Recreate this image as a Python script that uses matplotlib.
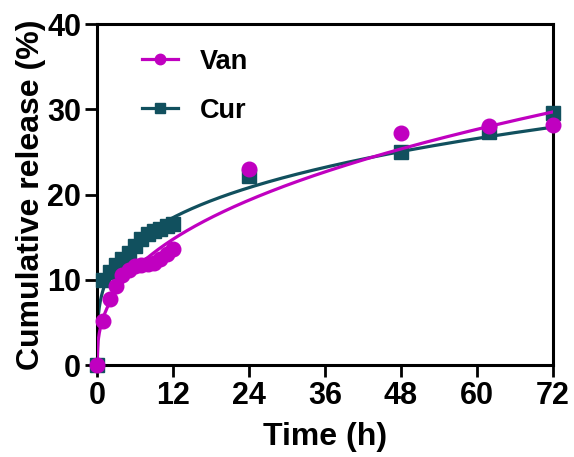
import numpy as np
import matplotlib
matplotlib.use("Agg")
import matplotlib.pyplot as plt

plt.rcParams['font.family'] = ['Liberation Sans', 'DejaVu Sans']
plt.rcParams['font.weight'] = 'bold'

# release data
time_van = [0, 1, 2, 3, 4, 5, 6, 7, 8, 9, 10, 11, 12, 24, 48, 62, 72]
van = [0, 5.2, 7.8, 9.3, 10.6, 11.2, 11.6, 11.8, 11.9, 12.0, 12.4, 13.0, 13.6, 23.0, 27.2, 28.1, 28.2]

time_cur = [0, 1, 2, 3, 4, 5, 6, 7, 8, 9, 10, 11, 12, 24, 48, 62, 72]
cur = [0, 10.0, 10.9, 11.8, 12.4, 13.2, 14.0, 14.8, 15.4, 15.7, 16.0, 16.3, 16.6, 22.2, 25.0, 27.3, 29.6]

xticks = [0, 12, 24, 36, 48, 60, 72]
yticks = [0, 10, 20, 30, 40]

van_color = '#C000C0'
cur_color = '#11505E'


def power_fit(t, q):
    # Korsmeyer-Peppas style fit, Q = k * t^n
    t = np.asarray(t, float)
    q = np.asarray(q, float)
    m = t > 0
    n, logk = np.polyfit(np.log(t[m]), np.log(q[m]), 1)
    return np.exp(logk), n


fig = plt.figure(figsize=(5.74, 4.57), dpi=100)
ax = fig.add_axes([0.169, 0.201, 0.794, 0.746])

tt = np.linspace(0, 72, 400)
series = [(time_cur, cur, cur_color, 's', 'Cur', 2),
          (time_van, van, van_color, 'o', 'Van', 4)]
for t, q, c, mk, lab, z in series:
    k, n = power_fit(t, q)
    ax.plot(tt, k * tt ** n, color=c, lw=2.3, zorder=z)
    ax.plot(t, q, linestyle='none', marker=mk, color=c, ms=10.5,
            zorder=z + 1, clip_on=False)

# legend proxies, Van first
for t, q, c, mk, lab, z in series[::-1]:
    ax.plot([], [], color=c, lw=2.3, marker=mk, ms=7.5, label=lab)

ax.set_xlim(0, 72)
ax.set_ylim(0, 40)
ax.set_xticks(xticks)
ax.set_yticks(yticks)
ax.tick_params(direction='out', length=8.5, width=2, labelsize=22, pad=3)
for s in ax.spines.values():
    s.set_linewidth(2.2)
ax.set_xlabel('Time (h)', fontsize=23, fontweight='bold', labelpad=8)
ax.set_ylabel('Cumulative release (%)', fontsize=23, fontweight='bold', labelpad=1)

ax.legend(loc='upper left', bbox_to_anchor=(0.045, 1.0), frameon=False,
          fontsize=19.5, handlelength=1.35, labelspacing=0.85, handletextpad=0.8)

fig.savefig('out.png', dpi=100)
